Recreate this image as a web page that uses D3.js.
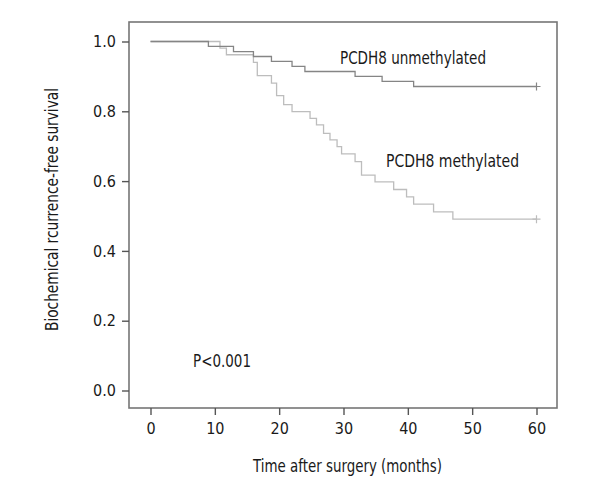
<!DOCTYPE html>
<html>
<head>
<meta charset="utf-8">
<script src="https://cdn.jsdelivr.net/npm/d3@7"></script>
<style>
  body { margin: 0; background: #fff; }
  svg text { font-family: "DejaVu Sans Condensed", "Liberation Sans Narrow", "Roboto", sans-serif; fill: #1a1a1a; }
</style>
</head>
<body>
<svg id="chart" width="600" height="500"></svg>
<script>
// Kaplan-Meier steps (month, survival after the drop)
const unmethTimes = [0, 9.0, 12.9, 16.0, 18.8, 22.0, 24.0, 31.8, 36.0, 40.9];
const unmethSurv  = [1.0, 0.986, 0.971, 0.957, 0.943, 0.929, 0.914, 0.900, 0.886, 0.871];
const methTimes = [0, 10.8, 11.8, 16.0, 16.6, 18.8, 19.6, 20.7, 22.0, 24.8, 25.8, 26.9, 27.9, 29.0, 29.7, 31.8, 32.8, 34.9, 37.8, 39.8, 40.9, 44.0, 47.0];
const methSurv  = [1.0, 0.981, 0.962, 0.940, 0.902, 0.881, 0.845, 0.819, 0.799, 0.780, 0.761, 0.737, 0.718, 0.699, 0.678, 0.656, 0.617, 0.598, 0.576, 0.555, 0.534, 0.512, 0.491];
const followUpEnd = 60;
const xTicks = [0, 10, 20, 30, 40, 50, 60];
const yTicks = [0, 0.2, 0.4, 0.6, 0.8, 1.0];

const svg = d3.select("#chart");
const x = d3.scaleLinear().domain([0, 60]).range([150.5, 536.5]);
const y = d3.scaleLinear().domain([0, 1]).range([390.5, 41.5]);
const frame = { left: 129, right: 557, top: 22, bottom: 408 };

// box
svg.append("rect")
    .attr("x", frame.left).attr("y", frame.top)
    .attr("width", frame.right - frame.left).attr("height", frame.bottom - frame.top)
    .attr("fill", "none").attr("stroke", "#767676").attr("stroke-width", 1.6);

// axes
const yAxis = svg.append("g")
    .attr("transform", `translate(${frame.left},0)`)
    .call(d3.axisLeft(y).tickValues(yTicks).tickSize(7).tickPadding(6).tickFormat(d3.format(".1f")));
const xAxis = svg.append("g")
    .attr("transform", `translate(0,${frame.bottom})`)
    .call(d3.axisBottom(x).tickValues(xTicks).tickSize(7).tickPadding(8));
[xAxis, yAxis].forEach(g => {
    g.select(".domain").remove();
    g.selectAll(".tick line").attr("stroke", "#555").attr("stroke-width", 1.4);
    g.selectAll(".tick text").attr("font-size", 16).attr("fill", "#1a1a1a");
});

// survival curves
const stepLine = d3.line().curve(d3.curveStepAfter).x(d => x(d[0])).y(d => y(d[1]));
function curve(times, surv, color, width) {
    const pts = times.map((t, i) => [t, surv[i]]);
    pts.push([followUpEnd, surv[surv.length - 1]]);
    svg.append("path").datum(pts)
        .attr("d", stepLine)
        .attr("fill", "none").attr("stroke", color).attr("stroke-width", width);
    const cx = x(followUpEnd), cy = y(surv[surv.length - 1]);
    svg.append("path")
        .attr("d", `M${cx - 4},${cy}H${cx + 4}M${cx},${cy - 4}V${cy + 4}`)
        .attr("stroke", color).attr("stroke-width", 1.2);
}
curve(methTimes, methSurv, "#bdbdbd", 1.3);
curve(unmethTimes, unmethSurv, "#858585", 1.3);

// labels, squeezed to the condensed widths of the original face
function label(px, py, size, len, txt) {
    return svg.append("text").attr("x", px).attr("y", py).attr("font-size", size)
        .attr("textLength", len).attr("lengthAdjust", "spacingAndGlyphs").text(txt);
}
label(340, 64, 18, 146, "PCDH8 unmethylated");
label(386, 167, 18, 133, "PCDH8 methylated");
label(193, 367, 18, 58, "P<0.001");
label(253, 472, 17, 189, "Time after surgery (months)");
svg.append("text")
    .attr("transform", "translate(58,331) rotate(-90)")
    .attr("font-size", 17).attr("textLength", 243).attr("lengthAdjust", "spacingAndGlyphs")
    .text("Biochemical rcurrence-free survival");
</script>
</body>
</html>
